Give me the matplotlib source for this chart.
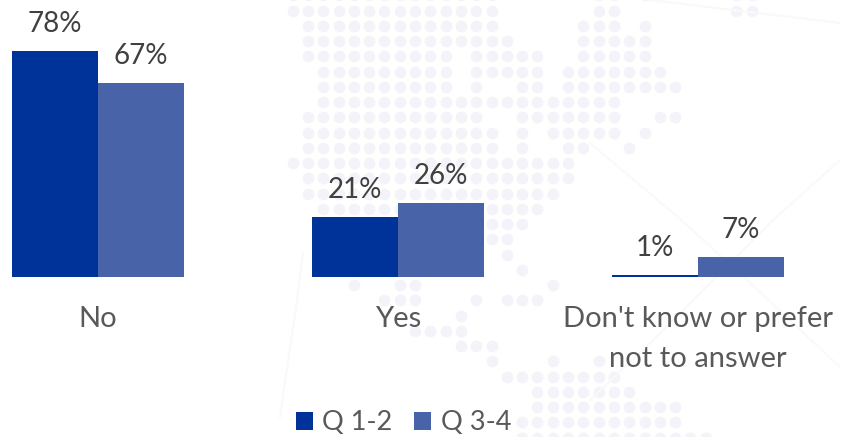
import matplotlib
matplotlib.use('Agg')
import matplotlib.pyplot as plt
import numpy as np

# Chart data (bar heights, labels round them)
categories = ['No', 'Yes', "Don't know or prefer\nnot to answer"]
q12_values = [78, 20.6, 0.7]
q34_values = [67, 25.5, 6.8]
series_names = ['Q 1-2', 'Q 3-4']

# Watermark dots: (row, first column, last column) on the dot grid
dot_runs = [
    (-1, 0, 13), (-1, 20, 21), (-1, 23, 23), (-1, 29, 30),
    (0, 0, 13), (0, 20, 21), (0, 29, 30),
    (1, 1, 13), (1, 19, 21), (1, 23, 23),
    (2, 1, 14), (2, 19, 23),
    (3, 1, 10), (3, 12, 16), (3, 19, 23),
    (4, 2, 10), (4, 12, 16), (4, 18, 24),
    (5, 2, 10), (5, 12, 12), (5, 15, 16), (5, 18, 25),
    (6, 2, 21),
    (7, 1, 12), (7, 15, 21), (7, 24, 25),
    (8, 1, 13), (8, 15, 15), (8, 17, 21), (8, 23, 23),
    (9, 1, 13), (9, 15, 15), (9, 18, 19), (9, 22, 22),
    (10, 0, 18), (11, 1, 18), (12, 1, 17), (13, 2, 16),
    (14, 13, 15), (15, 13, 14), (16, 14, 14), (17, 15, 15),
    (18, 4, 4), (18, 7, 8), (18, 17, 17),
    (19, 6, 8), (19, 12, 12), (19, 14, 16),
    (20, 11, 11), (21, 8, 11), (22, 11, 13),
    (23, 13, 13), (23, 17, 17), (23, 20, 20),
    (24, 14, 21), (25, 16, 22), (26, 16, 25), (27, 15, 25), (28, 15, 27),
]
# Faint watermark lines, pixel coordinates of the picture
edge_lines = [
    ([650, 840], [0, 23]),
    ([590, 678, 747, 840], [143, 217, 280, 367]),
    ([840, 773, 650, 590], [160, 220, 343, 400]),
    ([303, 297, 280], [253, 300, 417]),
]

plt.rcParams['font.family'] = ['Lato', 'DejaVu Sans']

W, H = 841, 437
fig = plt.figure(figsize=(W / 100, H / 100), dpi=100)

# Background layer in pixel coordinates
bg = fig.add_axes([0, 0, 1, 1], zorder=0)
bg.set_xlim(0, W)
bg.set_ylim(H, 0)
bg.axis('off')
for xs, ys in edge_lines:
    bg.plot(xs, ys, color='#f9f9f9', lw=1.5)
dot_x, dot_y = [], []
for row, first, last in dot_runs:
    for col in range(first, last + 1):
        dot_x.append(292.7 + 15.3 * col)
        dot_y.append(10.7 + 15.25 * row)
bg.scatter(dot_x, dot_y, s=72, color='#f3f3f9', linewidths=0)

# Bars, baseline at y = 276.7 px, 2.894 px per percent
baseline = 276.7
ax = fig.add_axes([0, 1 - baseline / H, 1, baseline / H], zorder=1)
ax.patch.set_alpha(0)
x = np.arange(len(categories))
width = 86 / 300
b1 = ax.bar(x - width / 2, q12_values, width, color='#003399', label=series_names[0])
b2 = ax.bar(x + width / 2, q34_values, width, color='#4863A8', label=series_names[1])
ax.set_xlim(-98 / 300, (W - 98) / 300)
ax.set_ylim(0, baseline / 2.894)
ax.bar_label(b1, fmt='%.0f%%', padding=10, fontsize=20, color='#404040')
ax.bar_label(b2, fmt='%.0f%%', padding=10, fontsize=20, color='#404040')

ax.set_xticks(x)
ax.set_xticklabels(categories, fontsize=21, color='#595959', linespacing=1.68)
ax.tick_params(axis='x', length=0, pad=21)
ax.set_yticks([])
for spine in ax.spines.values():
    spine.set_visible(False)

fig.legend(handles=[b1, b2], loc='center', bbox_to_anchor=(403.5 / W, 1 - 423 / H),
           ncol=2, frameon=False, fontsize=19.5, labelcolor='#595959',
           handlelength=0.62, handleheight=0.62, handletextpad=0.36,
           columnspacing=0.8, borderpad=0)

fig.savefig('out.png', dpi=100)
